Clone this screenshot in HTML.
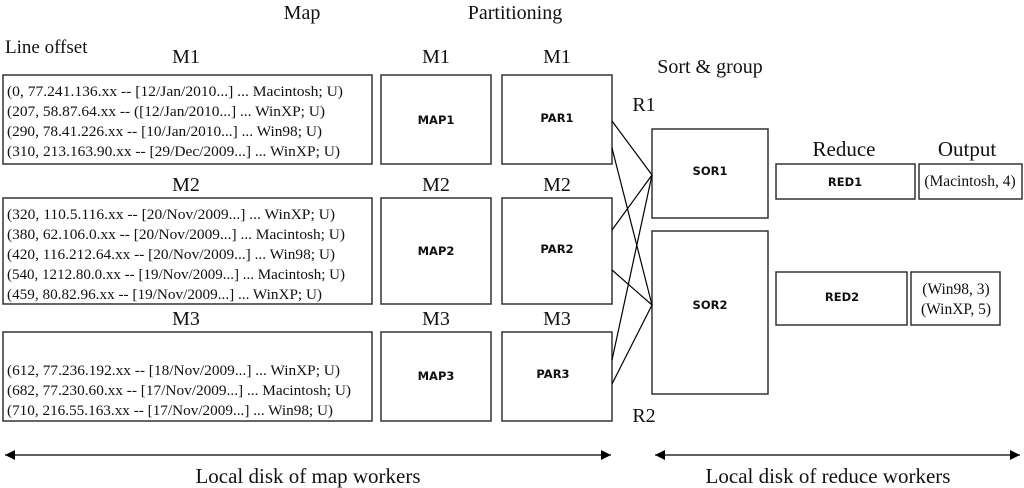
<!DOCTYPE html>
<html><head><style>body{margin:0;background:#fff}svg{display:block}</style></head><body>
<svg width="1024" height="488" xmlns="http://www.w3.org/2000/svg">
<defs><marker id="a" viewBox="0 0 10 10" refX="10" refY="5" markerWidth="10" markerHeight="10" markerUnits="userSpaceOnUse" orient="auto-start-reverse"><path d="M0,0L10,5L0,10z" fill="#000"/></marker></defs>
<g fill="none" stroke="#333" stroke-width="1.5">
<rect x="3" y="75" width="369" height="89"/>
<rect x="3" y="198" width="369" height="106"/>
<rect x="3" y="332" width="369" height="89"/>
<rect x="381" y="75" width="110" height="89"/>
<rect x="381" y="198" width="110" height="106"/>
<rect x="381" y="332" width="110" height="89"/>
<rect x="502" y="75" width="110" height="89"/>
<rect x="502" y="198" width="110" height="106"/>
<rect x="502" y="332" width="110" height="89"/>
<rect x="652" y="129" width="116" height="89"/>
<rect x="652" y="231" width="116" height="163"/>
<rect x="776" y="164" width="139" height="35"/>
<rect x="919" y="164" width="103" height="35"/>
<rect x="776" y="272" width="131" height="53"/>
<rect x="911" y="272" width="89" height="53"/>
</g>
<g stroke="#000" stroke-width="1.2">
<line x1="612" y1="121" x2="652" y2="175"/>
<line x1="612" y1="148" x2="652" y2="305"/>
<line x1="612" y1="230" x2="652" y2="175"/>
<line x1="612" y1="270" x2="652" y2="305"/>
<line x1="612" y1="360" x2="652" y2="175"/>
<line x1="612" y1="384" x2="652" y2="305"/>
<line x1="5" y1="455" x2="611" y2="455" marker-start="url(#a)" marker-end="url(#a)"/>
<line x1="655" y1="455" x2="1020" y2="455" marker-start="url(#a)" marker-end="url(#a)"/>
</g>
<g font-family="Liberation Serif, serif" fill="#111">
<g font-size="20" text-anchor="middle">
<text x="302" y="19">Map</text>
<text x="515" y="19">Partitioning</text>
<text x="710" y="73">Sort &amp; group</text>
<text x="186" y="63">M1</text><text x="436" y="63">M1</text><text x="557" y="63">M1</text>
<text x="186" y="191">M2</text><text x="436" y="191">M2</text><text x="557" y="191">M2</text>
<text x="186" y="325">M3</text><text x="436" y="325">M3</text><text x="557" y="325">M3</text>
<text x="644" y="111">R1</text><text x="644" y="422">R2</text>
<text x="844" y="156" font-size="21">Reduce</text><text x="967" y="156" font-size="21">Output</text>
<text x="308" y="483" font-size="21">Local disk of map workers</text>
<text x="828" y="483" font-size="21">Local disk of reduce workers</text>
</g>
<text x="5" y="53" font-size="19">Line offset</text>
<g font-size="15">
<text x="7" y="96" textLength="336" lengthAdjust="spacingAndGlyphs">(0, 77.241.136.xx -- [12/Jan/2010...] ... Macintosh; U)</text>
<text x="7" y="116" textLength="318" lengthAdjust="spacingAndGlyphs">(207, 58.87.64.xx -- ([12/Jan/2010...] ... WinXP; U)</text>
<text x="7" y="136" textLength="315" lengthAdjust="spacingAndGlyphs">(290, 78.41.226.xx -- [10/Jan/2010...] ... Win98; U)</text>
<text x="7" y="156" textLength="333" lengthAdjust="spacingAndGlyphs">(310, 213.163.90.xx -- [29/Dec/2009...] ... WinXP; U)</text>
<text x="7" y="219" textLength="328" lengthAdjust="spacingAndGlyphs">(320, 110.5.116.xx -- [20/Nov/2009...] ... WinXP; U)</text>
<text x="7" y="239" textLength="338" lengthAdjust="spacingAndGlyphs">(380, 62.106.0.xx -- [20/Nov/2009...] ... Macintosh; U)</text>
<text x="7" y="259" textLength="328" lengthAdjust="spacingAndGlyphs">(420, 116.212.64.xx -- [20/Nov/2009...] ... Win98; U)</text>
<text x="7" y="279" textLength="338" lengthAdjust="spacingAndGlyphs">(540, 1212.80.0.xx -- [19/Nov/2009...] ... Macintosh; U)</text>
<text x="7" y="299" textLength="315" lengthAdjust="spacingAndGlyphs">(459, 80.82.96.xx -- [19/Nov/2009...] ... WinXP; U)</text>
<text x="7" y="375" textLength="333" lengthAdjust="spacingAndGlyphs">(612, 77.236.192.xx -- [18/Nov/2009...] ... WinXP; U)</text>
<text x="7" y="395" textLength="344" lengthAdjust="spacingAndGlyphs">(682, 77.230.60.xx -- [17/Nov/2009...] ... Macintosh; U)</text>
<text x="7" y="415" textLength="326" lengthAdjust="spacingAndGlyphs">(710, 216.55.163.xx -- [17/Nov/2009...] ... Win98; U)</text>
<text x="970" y="186" text-anchor="middle" font-size="15.5">(Macintosh, 4)</text>
<text x="956" y="294" text-anchor="middle" font-size="15.5">(Win98, 3)</text>
<text x="956" y="314" text-anchor="middle" font-size="15.5">(WinXP, 5)</text>
</g>
</g>
<g font-family="DejaVu Sans, sans-serif" font-size="11.5" font-weight="bold" text-anchor="middle" fill="#111">
<text x="436" y="124">MAP1</text><text x="436" y="255">MAP2</text><text x="436" y="380">MAP3</text>
<text x="557" y="122">PAR1</text><text x="557" y="253">PAR2</text><text x="553" y="378">PAR3</text>
<text x="710" y="175">SOR1</text><text x="710" y="309">SOR2</text>
<text x="845" y="186">RED1</text><text x="842" y="301">RED2</text>
</g>
</svg>
</body></html>
